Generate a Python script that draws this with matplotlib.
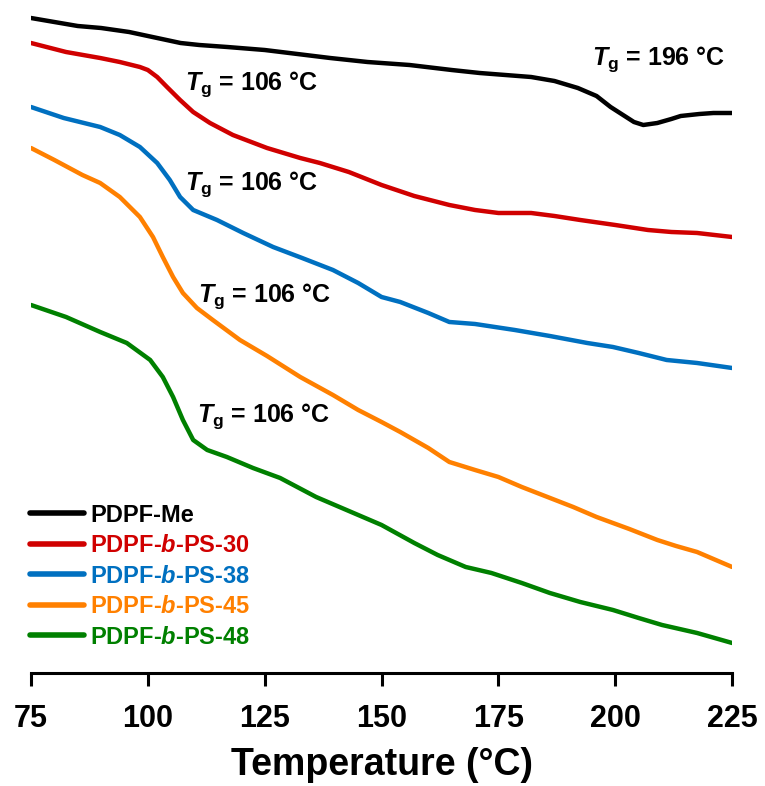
import matplotlib
matplotlib.use("Agg")
import matplotlib.pyplot as plt

# DSC traces (y in arbitrary heat-flow units, endo down)
t_me = [75, 80, 85, 90, 96, 101, 107, 111, 117, 125, 132, 139, 147, 156, 165, 171, 182,
        187, 192, 196, 199, 202, 204, 206, 209, 212, 214, 218, 221, 225]
hf_me = [18, 22, 26, 28, 32, 37, 43, 45, 47, 50, 54, 58, 62, 65, 70, 73, 77,
         81, 88, 96, 107, 116, 122, 125, 123, 119, 116, 114, 113, 113]

t_30 = [75, 82.5, 89.8, 94, 98.3, 100, 102, 104.1, 106.9, 109.7, 113.3, 118.2, 125.5, 132.6,
        136.8, 143, 150, 157, 164.5, 170, 175, 182, 187, 192.5, 200, 207, 212, 217.5, 225]
hf_30 = [43, 52, 58, 62, 67, 70, 77, 87, 100, 112, 123, 135, 148, 158,
         163, 172, 185, 196, 205, 210, 213, 213, 216, 220, 225, 230, 232, 233, 237]

t_38 = [75, 82, 89.8, 94, 98.3, 102, 104.7, 106.9, 109.7, 114.8, 120.4, 126.8, 133, 139.6,
        145, 150, 154, 160, 164.5, 170, 178.5, 186, 194, 199.5, 205, 211, 217.5, 225]
hf_38 = [107, 118, 127, 135, 147, 163, 180, 197, 210, 220, 233, 247, 258, 270,
         283, 297, 302, 313, 322, 324, 330, 336, 343, 347, 353, 360, 363, 368]

t_45 = [75, 80, 86, 89.8, 94, 98.3, 101.1, 103.2, 105.4, 107.5, 110.5, 113.9, 119.7, 125.5,
        132.6, 139.6, 145, 150, 154, 160, 164.5, 170, 175, 180, 185.5, 191, 196, 203, 209,
        213, 217.5, 225]
hf_45 = [148, 160, 175, 183, 197, 217, 237, 257, 277, 293, 308, 320, 340, 356,
         377, 395, 410, 422, 432, 448, 462, 470, 477, 487, 497, 507, 517, 529, 540,
         546, 552, 567]

t_48 = [75, 82.5, 89.8, 95.5, 100.5, 103.2, 105.4, 107.5, 109.7, 112.7, 116.9, 122.5, 128.3,
        136, 143, 150, 157, 162, 168, 173.5, 180, 186, 192.5, 199.5, 205, 210, 217.5, 225]
hf_48 = [305, 317, 332, 343, 360, 377, 397, 420, 440, 450, 457, 468, 478,
         497, 511, 525, 543, 555, 567, 573, 583, 593, 602, 610, 618, 625, 633, 643]

labels = ['PDPF-Me', r'PDPF-$\mathit{b}$-PS-30', r'PDPF-$\mathit{b}$-PS-38',
          r'PDPF-$\mathit{b}$-PS-45', r'PDPF-$\mathit{b}$-PS-48']
colors = ['#000000', '#d00000', '#0070c0', '#ff8000', '#008000']

tg_text = [r'$\mathit{T}_\mathrm{g}$ = 106 °C'] * 4 + [r'$\mathit{T}_\mathrm{g}$ = 196 °C']
tg_x = [108, 108, 110.7, 110.5, 195]
tg_y = [90, 190, 302, 422, 65]

xticks = [75, 100, 125, 150, 175, 200, 225]

plt.rcParams['font.family'] = ['Liberation Sans', 'DejaVu Sans']
plt.rcParams['font.weight'] = 'bold'
plt.rcParams['mathtext.fontset'] = 'custom'
plt.rcParams['mathtext.rm'] = 'Liberation Sans:bold'
plt.rcParams['mathtext.it'] = 'Liberation Sans:italic:bold'
plt.rcParams['mathtext.bf'] = 'Liberation Sans:bold'

fig = plt.figure(figsize=(7.65, 7.86), dpi=100)
ax = fig.add_axes([0.0405, 0.1438, 0.9165, 0.8562])

series = [(t_me, hf_me), (t_30, hf_30), (t_38, hf_38), (t_45, hf_45), (t_48, hf_48)]
for (t, hf), lab, c in zip(series, labels, colors):
    ax.plot(t, hf, color=c, lw=3.2, label=lab, solid_capstyle='round', solid_joinstyle='round')

for s, x, y in zip(tg_text, tg_x, tg_y):
    ax.text(x, y, s, fontsize=18, fontweight='bold', ha='left', va='baseline')

ax.set_xlim(75, 225)
ax.set_ylim(673, 0)
ax.set_xticks(xticks)
ax.set_yticks([])
for side in ['top', 'right', 'left']:
    ax.spines[side].set_visible(False)
ax.spines['bottom'].set_linewidth(2.2)
ax.tick_params(axis='x', direction='out', length=9, width=2.2, pad=13, labelsize=22)
ax.set_xlabel('Temperature (°C)', fontsize=27, fontweight='bold', labelpad=10)

leg = ax.legend(loc='lower left', bbox_to_anchor=(-0.015, 0.022), frameon=False,
                fontsize=17, handlelength=2.3, handletextpad=0.25, labelspacing=0.32,
                borderaxespad=0, labelcolor='linecolor')
for line in leg.get_lines():
    line.set_linewidth(4)

fig.savefig('out.png', dpi=100)
